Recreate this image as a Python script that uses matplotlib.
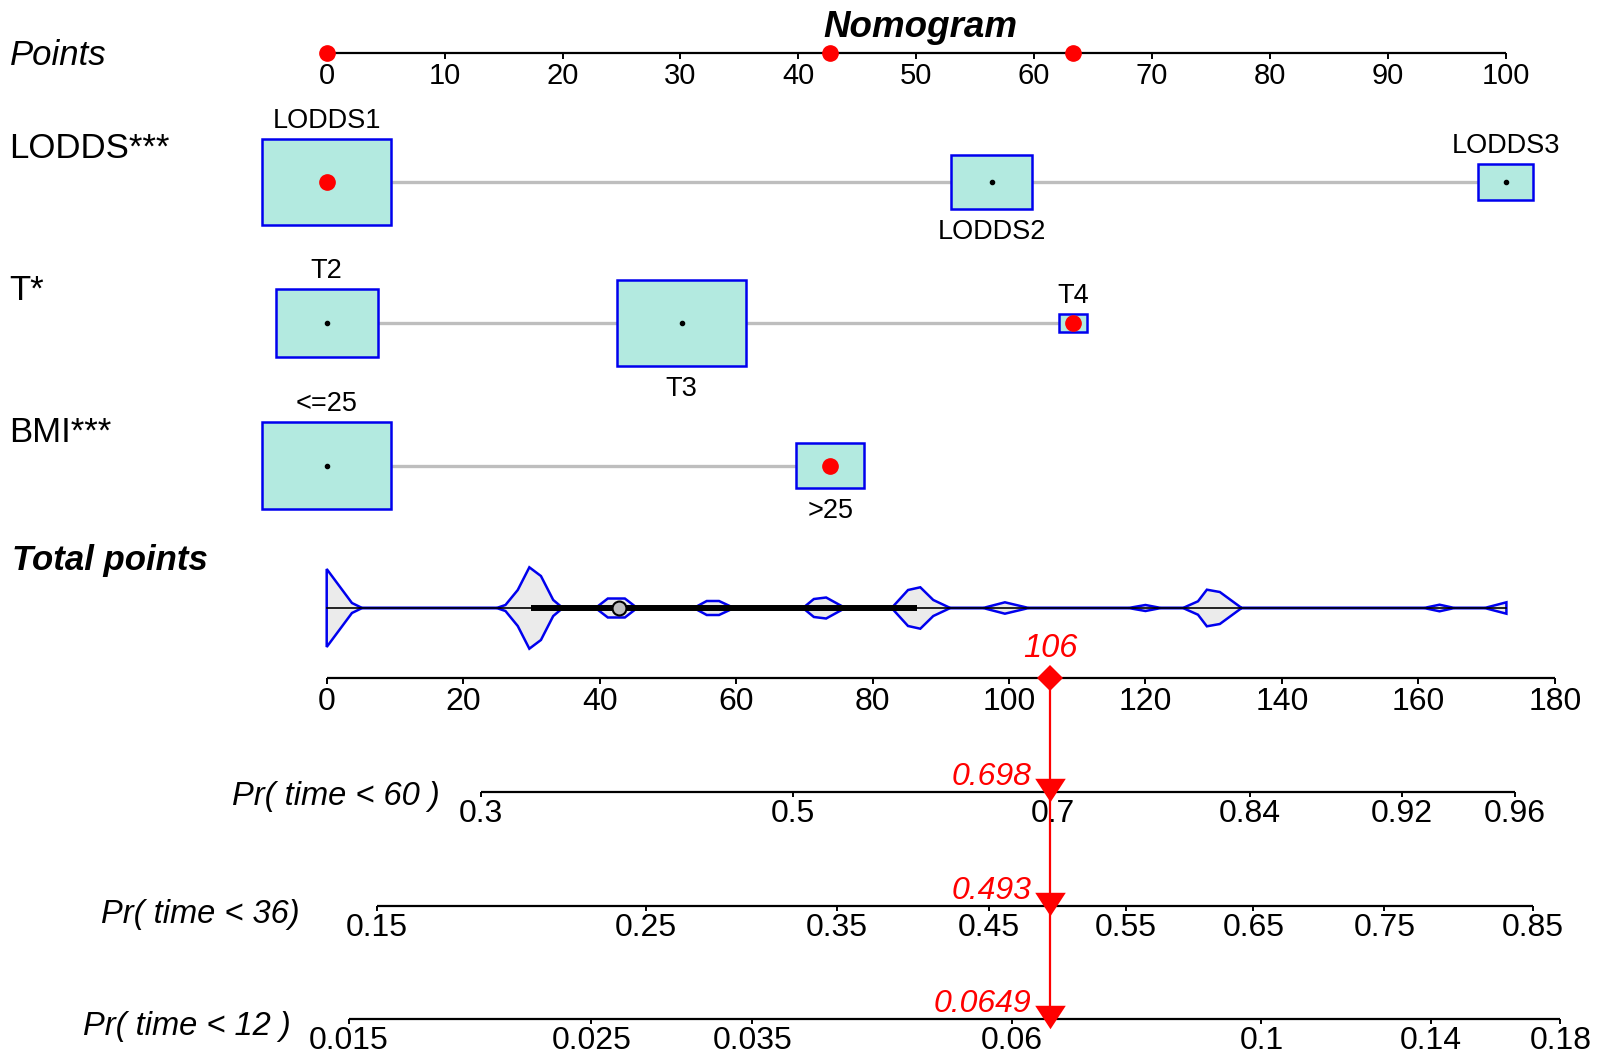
import numpy as np
import matplotlib.pyplot as plt
from matplotlib.patches import Rectangle

plt.rcParams['font.family'] = ['Liberation Sans', 'DejaVu Sans']

# ---- values ----
point_ticks = list(range(0, 101, 10))
total_ticks = list(range(0, 181, 20))

lodds_levels = ["LODDS1", "LODDS2", "LODDS3"]
lodds_points = [0, 56.4, 100]
lodds_freq = [0.636, 0.250, 0.114]

t_levels = ["T2", "T3", "T4"]
t_points = [0, 30.1, 63.3]
t_freq = [0.372, 0.599, 0.028]

bmi_levels = ["<=25", ">25"]
bmi_points = [0, 42.7]
bmi_freq = [0.783, 0.217]

# chosen level of each variable for the example patient
chosen = [0, 2, 1]

# outline of the violin of total points (total points, relative density)
violin_x = [0, 3.7, 5.2, 24.9, 26.2, 28.0, 29.7, 31.4, 33.2, 34.6, 39.4, 41.2, 43.7, 45.5,
            53.8, 55.7, 57.5, 59.7, 69.8, 71.4, 73.2, 76.0, 82.8, 85.2, 87.0, 88.9, 91.4,
            96.2, 99.4, 102.9, 117.5, 120.0, 122.3, 125.5, 127.7, 129.0, 130.9, 134.1,
            160.8, 163.1, 165.3, 169.7, 172.9]
violin_d = [0.958, 0.123, 0, 0, 0.074, 0.442, 1.0, 0.786, 0.197, 0, 0, 0.233, 0.233, 0,
            0, 0.172, 0.172, 0, 0, 0.221, 0.258, 0, 0, 0.442, 0.509, 0.197, 0,
            0, 0.14, 0, 0, 0.074, 0, 0, 0.165, 0.45, 0.393, 0,
            0, 0.081, 0, 0, 0.14]
box_q = [30.0, 42.8, 86.5]  # lower quartile, median, upper quartile

pr_labels = ["Pr( time < 60 )", "Pr( time < 36)", "Pr( time < 12 )"]
pr60_ticks = ["0.3", "0.5", "0.7", "0.84", "0.92", "0.96"]
pr60_pos = [22.6, 68.3, 106.4, 135.3, 157.6, 174.1]
pr36_ticks = ["0.15", "0.25", "0.35", "0.45", "0.55", "0.65", "0.75", "0.85"]
pr36_pos = [7.4, 46.8, 74.8, 97.0, 117.1, 135.8, 155.0, 176.8]
pr12_ticks = ["0.015", "0.025", "0.035", "0.06", "0.1", "0.14", "0.18"]
pr12_pos = [3.2, 38.8, 62.4, 100.4, 137.0, 161.8, 180.8]
pr_pred = [0.698, 0.493, 0.0649]

# ---- layout (pixels of a 1601 x 1060 canvas) ----
W, H = 1601, 1060
X0 = 326.7      # pixel of zero on both scales
PPT = 11.79     # pixels per point
TPT = 6.823     # pixels per total point
BOXW = 129      # widest box, pixels
RED = '#FF0000'
BLUE = '#0000EE'
BOXFILL = '#B3EAE0'

fig = plt.figure(figsize=(W / 100, H / 100), dpi=100)
lab = fig.add_axes([0, 0, 1, 1])
lab.set_xlim(0, W)
lab.set_ylim(H, 0)
ax = fig.add_axes([0, 0, 1, 1])
ax.set_xlim(-X0 / PPT, (W - X0) / PPT)
ax.set_ylim(H, 0)
ax2 = fig.add_axes([0, 0, 1, 1])
ax2.set_xlim(-X0 / TPT, (W - X0) / TPT)
ax2.set_ylim(H, 0)
for a in (lab, ax, ax2):
    a.axis('off')
    a.patch.set_visible(False)

lab.text(920, 36.7, "Nomogram", fontsize=26.5, fontweight='bold', fontstyle='italic',
         ha='center', va='baseline')

# points scale
y_pts = 53
lab.text(9.6, 65, "Points", fontsize=25, fontstyle='italic', va='baseline')
ax.plot([point_ticks[0], point_ticks[-1]], [y_pts, y_pts], color='black', lw=1.6, solid_capstyle='butt')
ax.vlines(point_ticks, y_pts, y_pts + 6, color='black', lw=1.4)
for t in point_ticks:
    ax.text(t, y_pts + 30.5, str(t), fontsize=21, ha='center', va='baseline')

# variable rows
rows = [("LODDS***", lodds_levels, lodds_points, lodds_freq, 182, 158.3),
        ("T*", t_levels, t_points, t_freq, 323, 300),
        ("BMI***", bmi_levels, bmi_points, bmi_freq, 465.5, 441.7)]
sel_points = []
for (name, levels, pts, freq, y, ybase), pick in zip(rows, chosen):
    lab.text(9.6, ybase, name, fontsize=25, va='baseline')
    ax.plot([min(pts), max(pts)], [y, y], color='#BEBEBE', lw=2.4, zorder=1)
    fmax = max(freq)
    for i, (lv, p, f) in enumerate(zip(levels, pts, freq)):
        wpx = BOXW * np.sqrt(f / fmax)
        hpx = wpx * 0.667
        ax.add_patch(Rectangle((p - wpx / PPT / 2, y - hpx / 2), wpx / PPT, hpx,
                               facecolor=BOXFILL, edgecolor=BLUE, lw=1.8, zorder=2))
        if i == pick:
            ax.plot(p, y, 'o', color=RED, ms=11, zorder=3)
        else:
            ax.plot(p, y, 'o', color='black', ms=3, zorder=3)
        if i % 2 == 0:
            ax.text(p, y - hpx / 2 - 11, lv, fontsize=19.5, ha='center', va='baseline')
        else:
            ax.text(p, y + hpx / 2 + 30, lv, fontsize=19.5, ha='center', va='baseline')
    sel_points.append(pts[pick])

ax.plot(sel_points, [y_pts] * len(sel_points), 'o', color=RED, ms=11, zorder=3)
total = sum(sel_points)

# total points violin
y_vio = 608
lab.text(12.3, 570, "Total points", fontsize=25, fontweight='bold', fontstyle='italic', va='baseline')
vx = np.array(violin_x)
vw = np.array(violin_d) * 40.7
ax2.fill(np.concatenate([vx, vx[::-1]]), np.concatenate([y_vio - vw, (y_vio + vw)[::-1]]),
         facecolor='#EBEBEB', edgecolor=BLUE, lw=1.8, zorder=1)
ax2.plot([vx[0], vx[-1]], [y_vio, y_vio], color='black', lw=1.2, zorder=2)
ax2.plot([box_q[0], box_q[2]], [y_vio, y_vio], color='black', lw=4.3, solid_capstyle='butt', zorder=3)
ax2.plot(box_q[1], y_vio, 'o', ms=10, markerfacecolor='#BEBEBE', markeredgecolor='black',
         markeredgewidth=1.5, zorder=4)

# total points axis
y_tot = 678
ax2.plot([total_ticks[0], total_ticks[-1]], [y_tot, y_tot], color='black', lw=1.6, solid_capstyle='butt')
ax2.vlines(total_ticks, y_tot, y_tot + 6, color='black', lw=1.4)
for t in total_ticks:
    ax2.text(t, y_tot + 32, str(t), fontsize=23, ha='center', va='baseline')

# probability axes
y_pr = [792, 906, 1019]
pr_lab_x = [232, 101, 83]
pr_lab_dy = [13, 17, 16]
pr_sets = [(pr60_ticks, pr60_pos), (pr36_ticks, pr36_pos), (pr12_ticks, pr12_pos)]
for name, (ticks, pos), y, lx, ldy, pv in zip(pr_labels, pr_sets, y_pr, pr_lab_x, pr_lab_dy, pr_pred):
    lab.text(lx, y + ldy, name, fontsize=23.5, fontstyle='italic', va='baseline')
    ax2.plot([min(pos), max(pos)], [y, y], color='black', lw=1.6, solid_capstyle='butt')
    ax2.vlines(pos, y, y + 5, color='black', lw=1.4)
    for tk, p in zip(ticks, pos):
        ax2.text(p, y + 30, tk, fontsize=23, ha='center', va='baseline')
    ax2.plot(total, y - 2, marker=[(-1.5, 1.15), (1.5, 1.15), (0, -1.15)], ms=22, color=RED,
             markeredgewidth=0, zorder=5)
    ax2.text(total - 18.5 / TPT, y - 7, f"{pv:.3g}", fontsize=23, fontstyle='italic',
             color=RED, ha='right', va='baseline')

# the patient's path
ax2.plot([total, total], [y_tot, y_pr[-1]], color=RED, lw=1.6, zorder=4)
ax2.plot(total, y_tot, 'D', ms=13, color=RED, markeredgewidth=0, zorder=5)
ax2.text(total, y_tot - 21, f"{total:.0f}", fontsize=23.5, fontstyle='italic', color=RED,
         ha='center', va='baseline')

fig.savefig("out.png", dpi=100)
